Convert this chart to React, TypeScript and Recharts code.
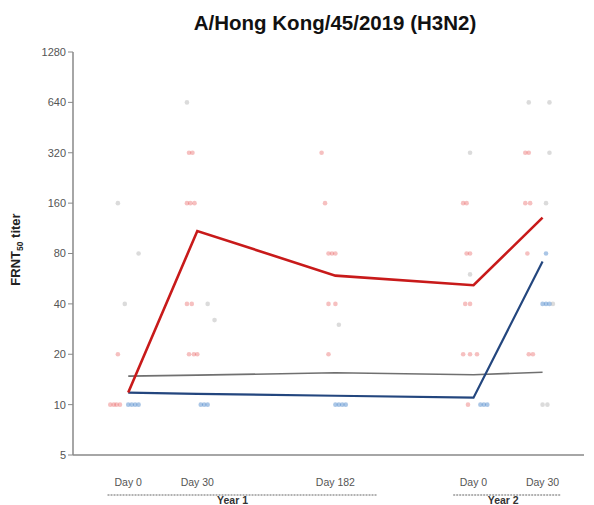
import React from 'react';
import { ComposedChart, Line, Scatter, XAxis, YAxis } from 'recharts';

// x positions: Day 0, Day 30, Day 182 (Year 1), Day 0, Day 30 (Year 2)
const dayTicks = [0, 1, 3, 5, 6];
const dayLabels = ['Day 0', 'Day 30', 'Day 182', 'Day 0', 'Day 30'];
const yearTicks = [1.51, 5.43];
const yearLabels = ['Year 1', 'Year 2'];
const titerTicks = [5, 10, 20, 40, 80, 160, 320, 640, 1280];

// geometric mean lines
const redMeans = [11.8, 109, 59, 51.7, 131];
const blueMeans = [11.8, 11.6, 11.3, 11.0, 71.7];
const grayMeans = [14.8, 15.0, 15.5, 15.1, 15.6];

// individual titers [x, titer]
const redDots: [number, number][] = [
  [-0.26, 10], [-0.21, 10], [-0.17, 10], [-0.12, 10], [-0.15, 20],
  [0.88, 320], [0.93, 320], [0.85, 160], [0.9, 160], [0.96, 160],
  [0.85, 40], [0.92, 40], [0.88, 20], [0.95, 20], [1.0, 20],
  [2.8, 320], [2.85, 160], [2.9, 80], [2.95, 80], [3.0, 80],
  [2.9, 40], [3.0, 40], [2.9, 20],
  [4.85, 160], [4.9, 160], [4.9, 80], [4.95, 80], [4.88, 40], [4.95, 40],
  [4.85, 20], [4.95, 20], [5.05, 20], [4.92, 10],
  [5.75, 320], [5.8, 320], [5.75, 160], [5.82, 160], [5.78, 80],
  [5.8, 20], [5.86, 20],
];
const blueDots: [number, number][] = [
  [0.0, 10], [0.05, 10], [0.1, 10], [0.15, 10],
  [1.05, 10], [1.1, 10], [1.15, 10],
  [3.0, 10], [3.05, 10], [3.1, 10], [3.15, 10],
  [5.1, 10], [5.15, 10], [5.2, 10],
  [6.05, 80], [6.0, 40], [6.05, 40], [6.1, 40],
];
const grayDots: [number, number][] = [
  [-0.15, 160], [0.15, 80], [-0.05, 40],
  [0.85, 640], [1.15, 40], [1.25, 32],
  [3.05, 30],
  [4.95, 320], [4.95, 60],
  [5.8, 640], [6.1, 640], [6.1, 320], [6.05, 160], [6.15, 40],
  [6.0, 10], [6.07, 10],
];

const toLine = (vals: number[]) => dayTicks.map((x, i) => ({ x, y: vals[i] }));
const toDots = (pts: [number, number][]) => pts.map(([x, y]) => ({ x, y }));

const FONT = 'Liberation Sans, Arial, Helvetica, sans-serif';

const dot = (color: string, op: number) => (p: any) => (
  <circle cx={p.cx} cy={p.cy} r={2.3} fill={color} fillOpacity={op} />
);

const DayTick = (props: any) => {
  const { x, y, payload } = props;
  const i = dayTicks.indexOf(payload.value);
  return (
    <text x={x} y={y + 23} textAnchor="middle" fontSize={10.5} fill="#555" fontFamily={FONT}>
      {dayLabels[i]}
    </text>
  );
};

const underline: [number, number][] = [[-125, 145], [-50, 57]];

const YearTick = (props: any) => {
  const { x, y, payload } = props;
  const i = yearTicks.indexOf(payload.value);
  return (
    <g>
      <line x1={x + underline[i][0]} x2={x + underline[i][1]} y1={y} y2={y} stroke="#999" strokeWidth={1.5} strokeDasharray="2 1" />
      <text x={x} y={y + 9} textAnchor="middle" fontSize={10.5} fontWeight="bold" fill="#333" fontFamily={FONT}>
        {yearLabels[i]}
      </text>
    </g>
  );
};

const YLabel = (props: any) => {
  const { viewBox } = props;
  const cy = viewBox.y + viewBox.height / 2 - 4;
  const cx = 20;
  return (
    <text x={cx} y={cy} transform={`rotate(-90 ${cx} ${cy})`} textAnchor="middle" fontSize={13} fontWeight="bold" fill="#222" fontFamily={FONT}>
      FRNT<tspan fontSize={8.5} dy={3}>50</tspan><tspan dy={-3}> titer</tspan>
    </text>
  );
};

export default function App() {
  return (
    <div style={{ position: 'absolute', left: 0, top: 0, width: 594, height: 505, background: '#fff', fontFamily: FONT }}>
      <div style={{ position: 'absolute', left: 0, width: 594, top: 13, paddingLeft: 76, boxSizing: 'border-box', textAlign: 'center', fontSize: 20.5, lineHeight: 1, fontWeight: 'bold', color: '#111' }}>
        A/Hong Kong/45/2019 (H3N2)
      </div>
      <ComposedChart width={594} height={505} margin={{ top: 52, right: 10, bottom: 0, left: 0 }}>
        <XAxis
          dataKey="x"
          type="number"
          domain={[-0.8, 6.6]}
          ticks={dayTicks}
          tick={<DayTick />}
          tickLine={false}
          axisLine={{ stroke: '#888', strokeWidth: 1.5 }}
          height={32}
          allowDataOverflow
        />
        <XAxis
          xAxisId="year"
          dataKey="x"
          type="number"
          domain={[-0.8, 6.6]}
          ticks={yearTicks}
          tick={<YearTick />}
          tickLine={false}
          axisLine={false}
          height={18}
          allowDataOverflow
        />
        <YAxis
          dataKey="y"
          type="number"
          scale="log"
          domain={[5, 1280]}
          ticks={titerTicks}
          width={73}
          tick={{ fontSize: 11, fill: '#555', fontFamily: FONT }}
          tickSize={5}
          tickLine={{ stroke: '#888' }}
          axisLine={{ stroke: '#888', strokeWidth: 1.5 }}
          allowDataOverflow
          label={<YLabel />}
        />
        <Scatter data={toDots(grayDots)} shape={dot('#888', 0.3)} isAnimationActive={false} />
        <Scatter data={toDots(redDots)} shape={dot('#e03030', 0.3)} isAnimationActive={false} />
        <Scatter data={toDots(blueDots)} shape={dot('#2a70c0', 0.4)} isAnimationActive={false} />
        <Line data={toLine(grayMeans)} dataKey="y" stroke="#707070" strokeWidth={1.6} dot={false} isAnimationActive={false} />
        <Line data={toLine(blueMeans)} dataKey="y" stroke="#23467e" strokeWidth={2.2} dot={false} isAnimationActive={false} />
        <Line data={toLine(redMeans)} dataKey="y" stroke="#c81a1a" strokeWidth={2.6} dot={false} isAnimationActive={false} />
      </ComposedChart>
    </div>
  );
}
